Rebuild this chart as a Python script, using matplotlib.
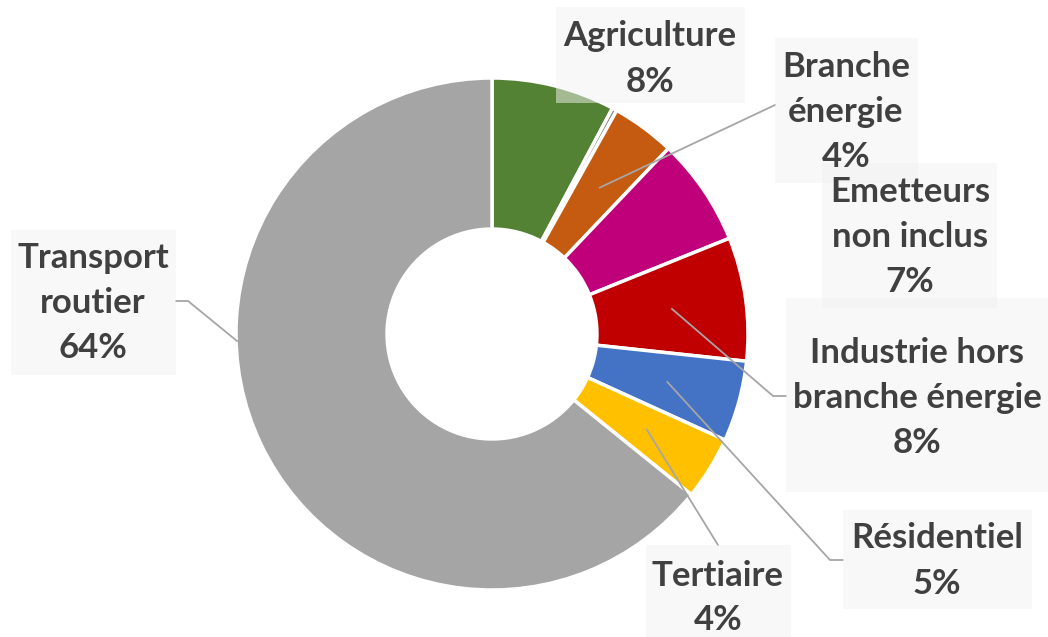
import numpy as np
import matplotlib.pyplot as plt
from matplotlib.patches import Rectangle

# data, clockwise from 12 o'clock
labels = ['Agriculture', '', 'Branche\nénergie', 'Emetteurs\nnon inclus',
          'Industrie hors\nbranche énergie', 'Résidentiel', 'Tertiaire',
          'Transport\nroutier']
values = [7.8, 0.3, 4.0, 6.8, 7.8, 5.1, 4.0, 64.2]
colors = ['#548235', '#7F7F7F', '#C55A11', '#C0007A', '#C00000',
          '#4472C4', '#FFC000', '#A5A5A5']

# label layout in pixels: text centre, label box (x0, y0, x1, y1), leader end
label_pos = {0: (650, 59), 2: (846, 112), 3: (910, 237), 4: (917, 398),
             5: (937, 561), 6: (718, 598), 7: (93, 303)}
label_box = {0: (556, 7, 745, 103), 2: (775, 38, 918, 183),
             3: (822, 163, 997, 308), 4: (786, 298, 1048, 492),
             5: (843, 510, 1032, 609), 6: (646, 545, 791, 640),
             7: (11, 230, 176, 375)}
leader_end = {2: [(775, 105)], 4: [(773, 396), (786, 396)],
              5: [(830, 560), (843, 560)], 6: [(718, 545)],
              7: [(188, 301), (176, 301)]}

W, H = 1048, 637
cx, cy, R = 492, 334, 256


def px(p):
    return ((p[0] - cx) / R, (cy - p[1]) / R)


fig = plt.figure(figsize=(W / 100, H / 100), dpi=100)
ax = fig.add_axes([0, 0, 1, 1])

wedges, _ = ax.pie(values, colors=colors, startangle=90, counterclock=False,
                   radius=1.0,
                   wedgeprops=dict(width=0.59, edgecolor='white', linewidth=2.5))
ax.set_xlim(-cx / R, (W - cx) / R)
ax.set_ylim(-(H - cy) / R, cy / R)
ax.set_aspect('equal')
ax.axis('off')

total = sum(values)
for i, w in enumerate(wedges):
    if i not in label_pos:
        continue
    # label box
    x0, y0, x1, y1 = label_box[i]
    bx, by = px((x0, y1))
    ax.add_patch(Rectangle((bx, by), (x1 - x0) / R, (y1 - y0) / R,
                           facecolor='#F2F2F2', edgecolor='none', alpha=0.5,
                           zorder=5))
    txt = '%s\n%d%%' % (labels[i], round(values[i] / total * 100))
    x, y = px(label_pos[i])
    ax.text(x, y, txt, ha='center', va='center', multialignment='center',
            fontsize=25, fontweight='bold', family='Lato', color='#404040',
            linespacing=1.5, zorder=6)
    if i in leader_end:
        mid = np.deg2rad((w.theta1 + w.theta2) / 2)
        if i == 7:
            start = px((237, 341))
        else:
            start = (0.71 * np.cos(mid), 0.71 * np.sin(mid))
        pts = [start] + [px(p) for p in leader_end[i]]
        xs, ys = zip(*pts)
        ax.plot(xs, ys, color='#A6A6A6', lw=1.3, zorder=4)

fig.savefig('out.png', dpi=100)
